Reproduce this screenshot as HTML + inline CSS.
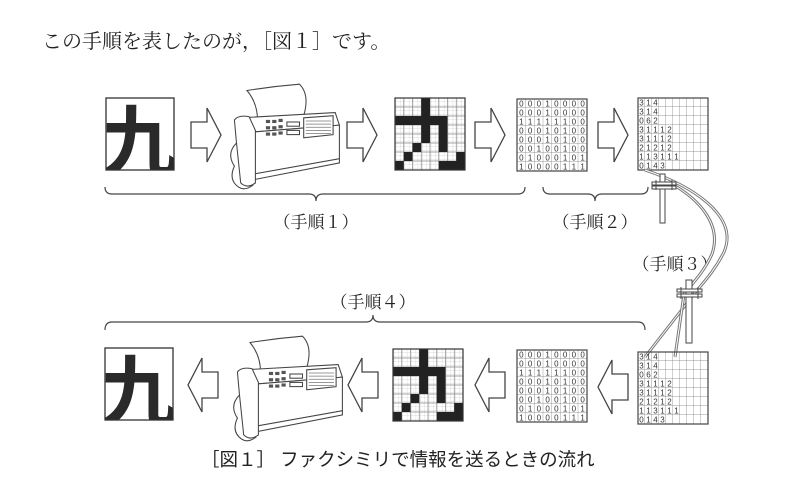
<!DOCTYPE html>
<html><head><meta charset="utf-8"><style>
html,body{margin:0;padding:0;background:#fff;}
svg{display:block}
.t{font-family:"Liberation Serif","Noto Serif CJK JP",serif;fill:#222}
.g{font-family:"Liberation Sans","Noto Sans CJK JP",sans-serif;fill:#222}
.d{font-family:"Liberation Sans",sans-serif;font-size:8px;fill:#333;text-anchor:middle}
</style></head><body>
<svg width="790" height="495" viewBox="0 0 790 495" xmlns="http://www.w3.org/2000/svg">
<defs>
<pattern id="p8" x="517" y="99" width="8.75" height="9" patternUnits="userSpaceOnUse"><path d="M8.75,0V9M0,9H8.75" stroke="#777" stroke-width="0.7" fill="none"/></pattern>
<pattern id="ph" x="395" y="98" width="4.375" height="4.5" patternUnits="userSpaceOnUse"><path d="M4.375,0V4.5M0,4.5H4.375" stroke="#bbb" stroke-width="0.5" fill="none"/></pattern>
<pattern id="pr" x="638" y="98" width="7" height="9" patternUnits="userSpaceOnUse"><path d="M7,0V9M0,9H7" stroke="#777" stroke-width="0.7" fill="none"/></pattern>
<clipPath id="kc"><rect x="0" y="0" width="68" height="72"/></clipPath>

<g id="kanji">
<rect x="0" y="0" width="68" height="72" fill="#fff"/>
<g clip-path="url(#kc)"><text x="-5" y="72" font-size="78" font-weight="bold" style="font-family:'Noto Sans CJK JP',sans-serif" fill="#2a2a2a">九</text></g>
<rect x="0" y="0" width="68" height="72" fill="none" stroke="#333" stroke-width="1.3"/>
</g>

<g id="arR"><polygon points="0,14 16,14 16,0 30,27 16,54 16,40 0,40" fill="#fff" stroke="#444" stroke-width="1.3"/></g>
<g id="arL"><polygon points="30,14 14,14 14,0 0,27 14,54 14,40 30,40" fill="#fff" stroke="#444" stroke-width="1.3"/></g>

<g id="faxs" fill="#fff" stroke="#444" stroke-width="1">
<path d="M20,10 Q45,6 70,4 Q80,14 74,34 L30,38 Q30,22 20,10Z"/>
<path d="M14,36 L104,31 L108,43 L20,50Z"/>
<path d="M20,50 L108,43 L108,75 L24,90Z"/>
<path d="M24,90 L108,75 L108,79 L26,95Z"/>
<path d="M8,38 Q12,33 22,35 L28,48 L28,98 Q20,104 14,98 L10,60Z"/>
<path d="M10,60 Q0,70 8,82 Q2,95 12,102 Q18,106 26,100" fill="none"/>
<g fill="#555" stroke="none">
<rect x="38" y="38" width="4" height="3"/><rect x="44" y="38" width="4" height="3"/><rect x="50" y="37" width="4" height="3"/>
<rect x="38" y="44" width="4" height="3"/><rect x="44" y="44" width="4" height="3"/><rect x="50" y="43" width="4" height="3"/>
<rect x="38" y="50" width="4" height="3"/><rect x="44" y="50" width="4" height="3"/><rect x="50" y="49" width="4" height="3"/>
</g>
<rect x="58" y="40" width="12" height="4"/><rect x="58" y="48" width="12" height="4"/>
<path d="M74,36 L102,34 L102,52 L74,55Z"/>
<path d="M76,39H100M76,42H100M76,45H100M76,48H100M76,51H100" stroke="#777" stroke-width="0.7"/>
</g>

<g id="pix">
<rect x="0" y="0" width="70" height="72" fill="#fff"/>
<rect x="0" y="0" width="70" height="72" fill="url(#ph)"/>
<path d="M8.75,0V72M17.5,0V72M26.25,0V72M35,0V72M43.75,0V72M52.5,0V72M61.25,0V72M0,9H70M0,18H70M0,27H70M0,36H70M0,45H70M0,54H70M0,63H70" stroke="#888" stroke-width="0.7"/>
<g fill="#222">
<rect x="26.25" y="0" width="8.75" height="18"/>
<rect x="0" y="18" width="52.5" height="9"/>
<rect x="26.25" y="27" width="8.75" height="18"/><rect x="43.75" y="27" width="8.75" height="27"/>
<rect x="17.5" y="45" width="8.75" height="9"/>
<rect x="8.75" y="54" width="8.75" height="9"/><rect x="61.25" y="54" width="8.75" height="9"/>
<rect x="0" y="63" width="8.75" height="9"/><rect x="43.75" y="63" width="26.25" height="9"/>
</g>
<rect x="0" y="0" width="70" height="72" fill="none" stroke="#333" stroke-width="1.2"/>
</g>

<g id="bin">
<rect x="517" y="99" width="70" height="72" fill="url(#p8)" stroke="#444" stroke-width="1.2"/>
<g class="d">
<text x="521.4 530.1 538.9 547.6 556.4 565.1 573.9 582.6" y="106.5">00010000</text>
<text x="521.4 530.1 538.9 547.6 556.4 565.1 573.9 582.6" y="115.5">00010000</text>
<text x="521.4 530.1 538.9 547.6 556.4 565.1 573.9 582.6" y="124.5">11111100</text>
<text x="521.4 530.1 538.9 547.6 556.4 565.1 573.9 582.6" y="133.5">00010100</text>
<text x="521.4 530.1 538.9 547.6 556.4 565.1 573.9 582.6" y="142.5">00010100</text>
<text x="521.4 530.1 538.9 547.6 556.4 565.1 573.9 582.6" y="151.5">00100100</text>
<text x="521.4 530.1 538.9 547.6 556.4 565.1 573.9 582.6" y="160.5">01000101</text>
<text x="521.4 530.1 538.9 547.6 556.4 565.1 573.9 582.6" y="169.5">10000111</text>
</g>
</g>
</defs>

<text class="t" x="42" y="48" font-size="20">この手順を表したのが，［図１］です。</text>

<use href="#kanji" x="106" y="98"/>
<use href="#arR" x="191" y="108"/>
<g transform="translate(226,80) scale(1.05,1.05)"><use href="#faxs"/></g>
<use href="#arR" x="347" y="108"/>
<use href="#pix" x="395" y="98"/>
<use href="#arR" x="475" y="108"/>
<use href="#bin"/>
<use href="#arR" x="598" y="108"/>
<g id="rl">
<rect x="638" y="98" width="70" height="72" fill="url(#pr)" stroke="#444" stroke-width="1.2"/>
<g class="d">
<text x="641.5 648.5 655.5" y="105.5">314</text>
<text x="641.5 648.5 655.5" y="114.5">314</text>
<text x="641.5 648.5 655.5" y="123.5">062</text>
<text x="641.5 648.5 655.5 662.5 669.5" y="132.5">31112</text>
<text x="641.5 648.5 655.5 662.5 669.5" y="141.5">31112</text>
<text x="641.5 648.5 655.5 662.5 669.5" y="150.5">21212</text>
<text x="641.5 648.5 655.5 662.5 669.5 676.5" y="159.5">113111</text>
<text x="641.5 648.5 655.5 662.5" y="168.5">0143</text>
</g>
</g>

<path d="M105,187 Q105,194 112,194 L309,194 Q316,194 316,201 Q316,194 323,194 L518,194 Q525,194 525,187" fill="none" stroke="#444" stroke-width="1.2"/>
<path d="M543,187 Q543,194 550,194 L588,194 Q595,194 595,201 Q595,194 602,194 L641,194 Q648,194 648,187" fill="none" stroke="#444" stroke-width="1.2"/>
<path d="M105,330 Q105,322 112,322 L366,322 Q373,322 373,315 Q373,322 380,322 L638,322 Q645,322 645,330" fill="none" stroke="#444" stroke-width="1.2"/>
<text class="t" x="316" y="228" font-size="17" text-anchor="middle">（手順１）</text>
<text class="t" x="595" y="228" font-size="17" text-anchor="middle">（手順２）</text>
<text class="t" x="675" y="270" font-size="17" text-anchor="middle">（手順３）</text>
<text class="t" x="373" y="308" font-size="17" text-anchor="middle">（手順４）</text>

<g fill="none">
<path d="M645,170 C690,185 740,215 724,252 C714,272 702,284 694,294 L645,357" stroke="#777" stroke-width="3"/>
<path d="M645,170 C690,185 740,215 724,252 C714,272 702,284 694,294 L645,357" stroke="#fff" stroke-width="1"/>
<path d="M672,184 C700,200 722,225 712,254 C704,272 692,284 684,294 L675,357" stroke="#777" stroke-width="3"/>
<path d="M672,184 C700,200 722,225 712,254 C704,272 692,284 684,294 L675,357" stroke="#fff" stroke-width="1"/>
</g>
<g fill="#fff" stroke="#444" stroke-width="1">
<rect x="660" y="174" width="5" height="49"/>
<rect x="652" y="182" width="24" height="3"/><rect x="652" y="186" width="24" height="3"/>
<path d="M656,180V190M672,180V190"/>
</g>
<g fill="#fff" stroke="#444" stroke-width="1">
<rect x="686" y="280" width="6" height="63"/>
<rect x="677" y="289" width="25" height="3"/><rect x="677" y="294" width="25" height="3"/>
<path d="M681,287V299M698,287V299"/>
</g>

<use href="#kanji" x="105" y="348"/>
<use href="#arL" x="188" y="358"/>
<g transform="translate(229,332) scale(1.05,1.05)"><use href="#faxs"/></g>
<use href="#arL" x="348" y="358"/>
<use href="#pix" x="393" y="349"/>
<use href="#arL" x="475" y="358"/>
<use href="#bin" y="251"/>
<use href="#arL" x="598" y="360"/>
<use href="#rl" y="254"/>

<text class="g" x="201" y="466" font-size="18.5">［図１］ ファクシミリで情報を送るときの流れ</text>
</svg>
</body></html>
